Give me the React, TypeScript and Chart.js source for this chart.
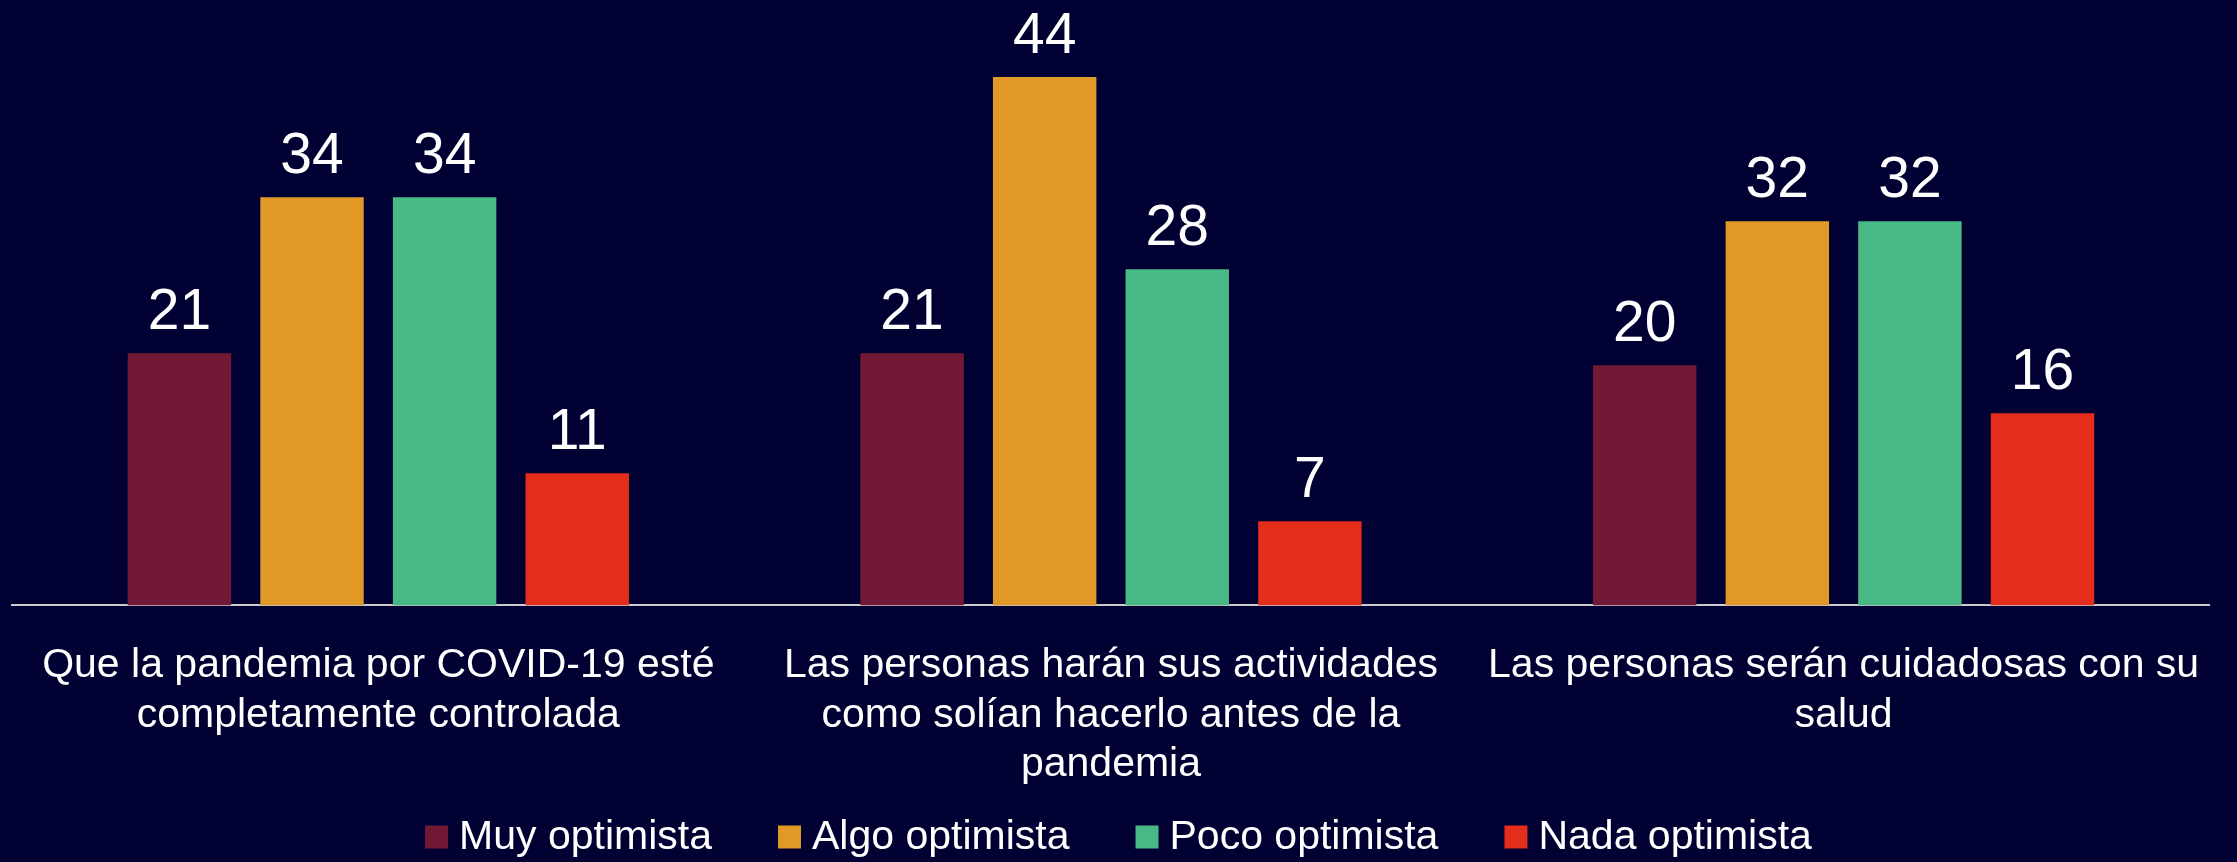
import React, { useEffect, useRef } from "react";
import { Chart, registerables } from "chart.js";

Chart.register(...registerables);

const categories: string[][] = [
  ["Que la pandemia por COVID-19 esté", "completamente controlada"],
  ["Las personas harán sus actividades", "como solían hacerlo antes de la", "pandemia"],
  ["Las personas serán cuidadosas con su", "salud"],
];

const seriesNames = ["Muy optimista", "Algo optimista", "Poco optimista", "Nada optimista"];
const muyOptimista = [21, 21, 20];
const algoOptimista = [34, 44, 32];
const pocoOptimista = [34, 28, 32];
const nadaOptimista = [11, 7, 16];
const seriesColors = ["#721A35", "#E09826", "#48B985", "#E52D1C"];

const BG = "#000033";
const FONT = '"Liberation Sans", Arial, sans-serif';

const bgPlugin = {
  id: "bgFill",
  beforeDraw(chart: any) {
    const { ctx, width, height } = chart;
    ctx.save();
    ctx.fillStyle = BG;
    ctx.fillRect(0, 0, width, height);
    ctx.restore();
  },
};

const valueLabelPlugin = {
  id: "valueLabels",
  afterDatasetsDraw(chart: any) {
    const { ctx } = chart;
    ctx.save();
    ctx.fillStyle = "#ffffff";
    ctx.font = `57px ${FONT}`;
    ctx.textAlign = "center";
    ctx.textBaseline = "alphabetic";
    chart.data.datasets.forEach((ds: any, i: number) => {
      const meta = chart.getDatasetMeta(i);
      meta.data.forEach((bar: any, j: number) => {
        ctx.fillText(String(ds.data[j]), bar.x, bar.y - 24);
      });
    });
    ctx.restore();
  },
};

const customLegendPlugin = {
  id: "customLegend",
  afterDraw(chart: any) {
    const { ctx, width } = chart;
    const fontSize = 41;
    const box = 23;
    const gap = 11;
    const spacing = 66;
    const yCenter = 837;
    ctx.save();
    ctx.font = `${fontSize}px ${FONT}`;
    const items = chart.data.datasets.map((ds: any) => ({
      label: ds.label,
      color: ds.backgroundColor,
      w: ctx.measureText(ds.label).width,
    }));
    const total =
      items.reduce((s: number, it: any) => s + box + gap + it.w, 0) + spacing * (items.length - 1);
    let x = (width - total) / 2;
    ctx.textBaseline = "middle";
    ctx.textAlign = "left";
    items.forEach((it: any) => {
      ctx.fillStyle = it.color;
      ctx.fillRect(x, yCenter - box / 2, box, box);
      ctx.fillStyle = "#ffffff";
      ctx.fillText(it.label, x + box + gap, yCenter + 1);
      x += box + gap + it.w + spacing;
    });
    ctx.restore();
  },
};

export default function App() {
  const canvasRef = useRef<HTMLCanvasElement | null>(null);

  useEffect(() => {
    document.body.style.margin = "0";
    document.body.style.background = BG;
    const canvas = canvasRef.current;
    if (!canvas) return;
    const seriesData = [muyOptimista, algoOptimista, pocoOptimista, nadaOptimista];
    const chart = new Chart(canvas, {
      type: "bar",
      data: {
        labels: categories,
        datasets: seriesNames.map((name, i) => ({
          label: name,
          data: seriesData[i],
          backgroundColor: seriesColors[i],
          borderWidth: 0,
          categoryPercentage: 0.724,
          barPercentage: 0.78,
        })),
      },
      options: {
        responsive: false,
        animation: false,
        devicePixelRatio: 1,
        layout: { padding: { left: 12, right: 11, top: 5, bottom: 37 } },
        plugins: {
          legend: { display: false },
          tooltip: { enabled: false },
          title: { display: false },
        },
        scales: {
          x: {
            grid: { display: false, drawTicks: false },
            border: { display: true, color: "#c9c9d0", width: 2 },
            ticks: {
              color: "#ffffff",
              font: { family: FONT, size: 41, lineHeight: 1.2 },
              padding: 36,
              maxRotation: 0,
              minRotation: 0,
              autoSkip: false,
            },
          },
          y: {
            display: false,
            min: 0,
            max: 50,
          },
        },
      },
      plugins: [bgPlugin, valueLabelPlugin, customLegendPlugin],
    });
    return () => chart.destroy();
  }, []);

  return (
    <div style={{ width: 2237, height: 862, background: BG }}>
      <canvas ref={canvasRef} width={2237} height={862} style={{ display: "block" }} />
    </div>
  );
}
